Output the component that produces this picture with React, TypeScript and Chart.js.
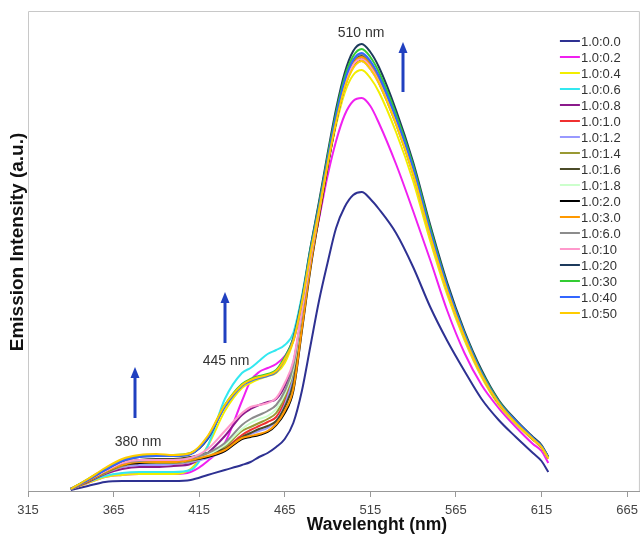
import React, { useEffect, useRef } from "react";
import { Chart, registerables } from "chart.js";

Chart.register(...registerables);

// Wavelength grid (nm)
const wavelengths = [340, 350, 360, 370, 380, 390, 400, 410, 420, 430, 440, 445, 450, 455, 460, 465, 470, 475, 480, 485, 490, 495, 500, 505, 510, 515, 520, 530, 540, 550, 560, 570, 580, 590, 600, 610, 615, 619];

// Emission intensities (a.u.) per ratio
const r_0_0 = [1, 5, 9, 10, 10, 10, 10, 11, 16, 21, 26, 29, 34, 38, 44, 52, 68, 100, 145, 190, 228, 263, 284, 296, 299, 292, 282, 258, 224, 184, 150, 120, 92, 71, 54, 38, 30, 19];
const r_0_2 = [2, 8, 14, 16, 17, 17, 17, 19, 30, 48, 90, 110, 119, 123, 127, 135, 150, 185, 232, 272, 315, 350, 376, 390, 393, 385, 368, 327, 280, 231, 180, 138, 106, 83, 64, 47, 40, 28];
const r_0_4 = [2, 8, 14, 16, 17, 17, 17, 22, 45, 80, 103, 108, 112, 115, 118, 128, 150, 187, 236, 280, 325, 366, 398, 416, 421, 413, 399, 359, 310, 250, 196, 151, 114, 86, 67, 51, 43, 32];
const r_0_6 = [2, 9, 15, 18, 19, 19, 19, 21, 45, 92, 118, 123, 130, 137, 141, 146, 158, 195, 243, 287, 333, 375, 408, 428, 436, 428, 413, 372, 321, 259, 203, 156, 118, 89, 69, 52, 44, 34];
const r_0_8 = [2, 9, 17, 22, 24, 24, 25, 27, 38, 55, 76, 82, 86, 89, 92, 105, 128, 178, 231, 278, 326, 370, 404, 424, 430, 422, 408, 367, 317, 255, 200, 154, 116, 88, 68, 52, 44, 33];
const r_1_0 = [2, 10, 18, 24, 27, 27, 27, 29, 34, 42, 56, 61, 65, 69, 74, 90, 118, 172, 229, 278, 327, 371, 406, 426, 433, 425, 410, 369, 319, 257, 201, 155, 117, 88, 69, 52, 44, 33];
const r_1_2 = [2, 10, 18, 24, 26, 26, 27, 29, 33, 40, 53, 57, 60, 63, 70, 86, 115, 170, 227, 276, 325, 369, 404, 424, 431, 423, 409, 367, 318, 256, 200, 154, 116, 88, 68, 52, 44, 33];
const r_1_4 = [2, 10, 18, 25, 28, 28, 28, 30, 35, 44, 60, 64, 68, 72, 78, 94, 120, 173, 229, 277, 326, 370, 405, 425, 432, 424, 409, 368, 318, 257, 201, 155, 117, 88, 69, 52, 44, 33];
const r_1_6 = [2, 11, 20, 28, 31, 32, 32, 34, 38, 42, 54, 58, 62, 65, 70, 84, 108, 166, 226, 277, 328, 373, 408, 428, 435, 427, 412, 371, 321, 258, 202, 156, 117, 89, 69, 52, 44, 34];
const r_1_8 = [2, 10, 19, 26, 29, 29, 29, 31, 36, 46, 62, 68, 72, 75, 82, 97, 122, 175, 230, 277, 325, 369, 403, 423, 430, 422, 408, 367, 317, 255, 200, 154, 116, 88, 68, 52, 44, 33];
const r_2_0 = [2, 10, 19, 26, 28, 29, 29, 31, 34, 40, 52, 54, 56, 59, 66, 78, 100, 160, 222, 274, 324, 369, 404, 425, 432, 424, 409, 368, 318, 257, 201, 155, 117, 88, 69, 52, 44, 33];
const r_3_0 = [2, 10, 19, 26, 29, 29, 29, 31, 35, 41, 53, 55, 57, 60, 67, 80, 102, 162, 224, 276, 326, 371, 406, 427, 434, 426, 411, 370, 320, 258, 202, 155, 117, 89, 69, 52, 44, 33];
const r_6_0 = [2, 11, 20, 28, 30, 31, 31, 33, 38, 48, 66, 72, 76, 80, 86, 100, 125, 177, 232, 281, 330, 375, 410, 431, 437, 429, 414, 373, 322, 260, 203, 157, 118, 89, 69, 53, 45, 34];
const r_10 = [2, 11, 20, 28, 31, 31, 31, 33, 42, 60, 78, 84, 86, 88, 93, 108, 130, 180, 233, 280, 328, 372, 406, 426, 432, 424, 409, 368, 318, 257, 201, 155, 117, 88, 69, 52, 44, 33];
const r_20 = [2, 11, 21, 30, 34, 35, 35, 37, 52, 85, 106, 111, 114, 116, 120, 133, 153, 192, 243, 289, 337, 382, 418, 440, 447, 439, 424, 381, 329, 266, 208, 160, 121, 91, 71, 54, 46, 34];
const r_30 = [2, 12, 22, 31, 35, 36, 36, 38, 54, 86, 107, 112, 115, 117, 121, 134, 152, 190, 241, 286, 334, 378, 414, 435, 442, 434, 419, 377, 326, 263, 205, 158, 119, 90, 70, 53, 45, 34];
const r_40 = [2, 11, 21, 30, 34, 35, 35, 37, 53, 84, 105, 110, 113, 115, 119, 132, 151, 189, 239, 284, 331, 375, 410, 431, 438, 430, 415, 373, 323, 260, 204, 157, 118, 89, 70, 53, 45, 34];
const r_50 = [2, 12, 23, 32, 36, 37, 36, 38, 55, 86, 106, 111, 114, 116, 120, 132, 150, 188, 237, 281, 327, 369, 403, 423, 430, 422, 408, 367, 317, 255, 200, 154, 116, 88, 68, 52, 44, 33];

const seriesLabels = ["1.0:0.0", "1.0:0.2", "1.0:0.4", "1.0:0.6", "1.0:0.8", "1.0:1.0", "1.0:1.2", "1.0:1.4", "1.0:1.6", "1.0:1.8", "1.0:2.0", "1.0:3.0", "1.0:6.0", "1.0:10", "1.0:20", "1.0:30", "1.0:40", "1.0:50"];
const seriesValues = [r_0_0, r_0_2, r_0_4, r_0_6, r_0_8, r_1_0, r_1_2, r_1_4, r_1_6, r_1_8, r_2_0, r_3_0, r_6_0, r_10, r_20, r_30, r_40, r_50];
const seriesColors = ["#2e3192", "#f020f0", "#f2ee00", "#33e8f0", "#8b1a8b", "#f03030", "#9999ff", "#999933", "#4b4b28", "#ccffcc", "#000000", "#ff9900", "#8c8c8c", "#ff99cc", "#1d3a5c", "#33cc33", "#3366ff", "#ffcc00"];

const xTickValues = [315, 365, 415, 465, 515, 565, 615, 665];
const X_MIN = 315;
const X_MAX = 672.5;
const Y_MIN = 0;
const Y_MAX = 480;

// Annotations in data units (wavelength, intensity)
const arrowMarks = [
  { x: 534, from: 399, to: 449 },
  { x: 430, from: 148, to: 199 },
  { x: 377.5, from: 73, to: 124 },
];
const peakLabels = [
  { text: "510 nm", x: 509.6, y: 458 },
  { text: "445 nm", x: 430.7, y: 130 },
  { text: "380 nm", x: 379.3, y: 49 },
];

const X_TITLE = "Wavelenght (nm)";
const Y_TITLE = "Emission Intensity (a.u.)";
const FONT = '"Liberation Sans", Arial, sans-serif';
const ARROW_COLOR = "#2040c0";

const decorations = {
  id: "decorations",
  beforeDatasetsDraw(chart: any) {
    const { ctx, chartArea: a } = chart;
    ctx.save();
    ctx.strokeStyle = "#c8c8c8";
    ctx.lineWidth = 1;
    ctx.beginPath();
    ctx.moveTo(a.left + 0.5, a.bottom);
    ctx.lineTo(a.left + 0.5, a.top + 0.5);
    ctx.lineTo(a.right - 0.5, a.top + 0.5);
    ctx.lineTo(a.right - 0.5, a.bottom);
    ctx.stroke();
    ctx.restore();
  },
  afterDraw(chart: any) {
    const { ctx, chartArea: a, scales } = chart;
    const xs = scales.x;
    const ys = scales.y;
    ctx.save();
    // arrows
    for (const ar of arrowMarks) {
      const px = Math.round(xs.getPixelForValue(ar.x));
      const y0 = ys.getPixelForValue(ar.from);
      const y1 = ys.getPixelForValue(ar.to);
      ctx.strokeStyle = ARROW_COLOR;
      ctx.lineWidth = 3;
      ctx.beginPath();
      ctx.moveTo(px, y0);
      ctx.lineTo(px, y1 + 8);
      ctx.stroke();
      ctx.fillStyle = ARROW_COLOR;
      ctx.beginPath();
      ctx.moveTo(px, y1);
      ctx.lineTo(px - 4.5, y1 + 11);
      ctx.lineTo(px + 4.5, y1 + 11);
      ctx.closePath();
      ctx.fill();
    }
    // peak labels
    ctx.font = `14px ${FONT}`;
    ctx.fillStyle = "#333333";
    ctx.textAlign = "center";
    ctx.textBaseline = "middle";
    for (const lb of peakLabels) {
      ctx.fillText(lb.text, xs.getPixelForValue(lb.x), ys.getPixelForValue(lb.y));
    }
    // legend
    const lx = a.right - 80;
    let ly = a.top + 30;
    ctx.font = `13px ${FONT}`;
    ctx.textAlign = "left";
    for (let i = 0; i < seriesLabels.length; i++) {
      ctx.strokeStyle = seriesColors[i];
      ctx.lineWidth = 2;
      ctx.beginPath();
      ctx.moveTo(lx, ly);
      ctx.lineTo(lx + 20, ly);
      ctx.stroke();
      ctx.fillStyle = "#333333";
      ctx.fillText(seriesLabels[i], lx + 21, ly + 1);
      ly += 16;
    }
    // axis titles
    ctx.fillStyle = "#111111";
    ctx.font = `bold 17.5px ${FONT}`;
    ctx.textAlign = "center";
    ctx.fillText(X_TITLE, 377, 525);
    ctx.translate(18, 242);
    ctx.rotate(-Math.PI / 2);
    ctx.font = `bold 19px ${FONT}`;
    ctx.fillText(Y_TITLE, 0, 0);
    ctx.restore();
  },
};

export default function App() {
  const canvasRef = useRef<HTMLCanvasElement | null>(null);

  useEffect(() => {
    if (!canvasRef.current) return;
    const datasets = seriesLabels.map((label, i) => ({
      label,
      data: wavelengths.map((w, j) => ({ x: w, y: seriesValues[i][j] })),
      borderColor: seriesColors[i],
      backgroundColor: seriesColors[i],
      borderWidth: 2,
      pointRadius: 0,
      tension: 0.4,
      cubicInterpolationMode: "monotone" as const,
      fill: false,
      order: seriesLabels.length - i,
    }));
    const chart = new Chart(canvasRef.current, {
      type: "line",
      data: { datasets },
      options: {
        animation: false,
        responsive: false,
        maintainAspectRatio: false,
        layout: { padding: { left: 28, right: 4, top: 11, bottom: 17 } },
        plugins: { legend: { display: false }, tooltip: { enabled: false } },
        scales: {
          x: {
            type: "linear",
            min: X_MIN,
            max: X_MAX,
            afterBuildTicks: (axis: any) => {
              axis.ticks = xTickValues.map((v) => ({ value: v }));
            },
            afterFit: (axis: any) => {
              axis.height = 30;
            },
            grid: { drawOnChartArea: false, drawTicks: true, tickLength: 6, color: "#999999" },
            border: { display: true, color: "#999999" },
            ticks: {
              font: { family: FONT, size: 13 },
              color: "#444444",
              padding: 6,
              maxRotation: 0,
              autoSkip: false,
            },
          },
          y: { display: false, min: Y_MIN, max: Y_MAX },
        },
      },
      plugins: [decorations],
    });
    return () => chart.destroy();
  }, []);

  return (
    <div style={{ position: "fixed", left: 0, top: 0, width: 644, height: 538, background: "#fff" }}>
      <canvas ref={canvasRef} width={644} height={538} style={{ display: "block" }} />
    </div>
  );
}
